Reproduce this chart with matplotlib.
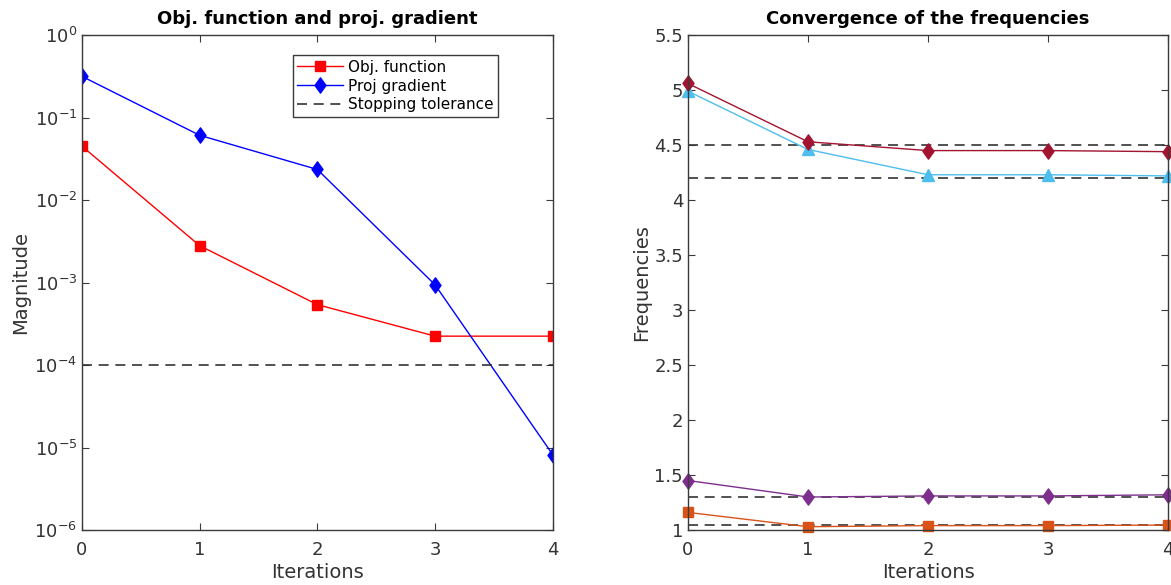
import matplotlib.pyplot as plt
from matplotlib.ticker import LogLocator, NullLocator
from matplotlib.path import Path

iters = [0, 1, 2, 3, 4]
obj_fun = [0.045, 2.8e-3, 5.4e-4, 2.24e-4, 2.24e-4]
proj_grad = [0.316, 0.061, 0.0235, 9.4e-4, 8.2e-6]
stop_tol = 1e-4

freq1 = [1.16, 1.03, 1.04, 1.04, 1.045]
freq2 = [1.45, 1.30, 1.31, 1.31, 1.32]
freq3 = [4.99, 4.46, 4.23, 4.23, 4.22]
freq4 = [5.06, 4.53, 4.45, 4.45, 4.44]
targets = [1.05, 1.30, 4.20, 4.50]

axcol = '#3a3a3a'
plt.rcParams['font.family'] = 'DejaVu Sans'

# matlab-ish diamond, a bit wider than mpl's 'd'
diam = Path([(0, 1), (0.72, 0), (0, -1), (-0.72, 0), (0, 1)],
            [Path.MOVETO, Path.LINETO, Path.LINETO, Path.LINETO, Path.CLOSEPOLY])

fig = plt.figure(figsize=(11.71, 5.85), dpi=100)
ax1 = fig.add_axes([0.070, 0.094, 0.402, 0.846])
ax2 = fig.add_axes([0.5875, 0.094, 0.41, 0.846])

def style(ax):
    for s in ax.spines.values():
        s.set_color(axcol)
        s.set_linewidth(1.0)
    ax.tick_params(direction='in', top=True, right=True, colors=axcol,
                   labelsize=13, length=5, labelcolor='#333333')
    ax.tick_params(axis='x', pad=8)

# left panel
ax1.plot(iters, obj_fun, '-', marker='s', color='red', lw=1, ms=7, label='Obj. function')
ax1.plot(iters, proj_grad, '-', marker=diam, color='blue', lw=1, ms=11, label='Proj gradient')
ax1.axhline(stop_tol, color='#333333', ls=(0, (6, 4)), lw=1.2, label='Stopping tolerance')
ax1.set_yscale('log')
ax1.set_ylim(1e-6, 1)
ax1.set_xlim(0, 4)
ax1.set_xticks(iters)
ax1.yaxis.set_major_locator(LogLocator(base=10, numticks=10))
ax1.yaxis.set_minor_locator(NullLocator())
ax1.set_xlabel('Iterations', fontsize=14, color='#333333', labelpad=3)
ax1.set_ylabel('Magnitude', fontsize=14, color='#333333', labelpad=3)
ax1.set_title('Obj. function and proj. gradient', fontsize=13, fontweight='bold', pad=8)
leg = ax1.legend(loc='upper right', bbox_to_anchor=(0.9, 0.975), fontsize=11,
                 fancybox=False, framealpha=1, edgecolor=axcol,
                 handlelength=3, borderpad=0.3, labelspacing=0.25, handletextpad=0.3)
leg.get_frame().set_linewidth(1.0)
style(ax1)

# right panel
for t in targets:
    ax2.axhline(t, color='#333333', ls=(0, (6, 4)), lw=1.2)
ax2.plot(iters, freq1, '-', marker='s', color='#D95319', lw=1, ms=7, clip_on=False)
ax2.plot(iters, freq2, '-', marker=diam, color='#7E2F8E', lw=1, ms=11, clip_on=False)
ax2.plot(iters, freq3, '-', marker='^', color='#4DBEEE', lw=1, ms=9, clip_on=False)
ax2.plot(iters, freq4, '-', marker=diam, color='#A2142F', lw=1, ms=11, clip_on=False)
ax2.set_xlim(0, 4)
ax2.set_ylim(1, 5.5)
ax2.set_xticks(iters)
ax2.set_yticks([1, 1.5, 2, 2.5, 3, 3.5, 4, 4.5, 5, 5.5])
ax2.set_yticklabels(['1', '1.5', '2', '2.5', '3', '3.5', '4', '4.5', '5', '5.5'])
ax2.set_xlabel('Iterations', fontsize=14, color='#333333', labelpad=3)
ax2.set_ylabel('Frequencies', fontsize=14, color='#333333', labelpad=2)
ax2.set_title('Convergence of the frequencies', fontsize=13, fontweight='bold', pad=8)
style(ax2)

fig.savefig('out.png', dpi=100)
